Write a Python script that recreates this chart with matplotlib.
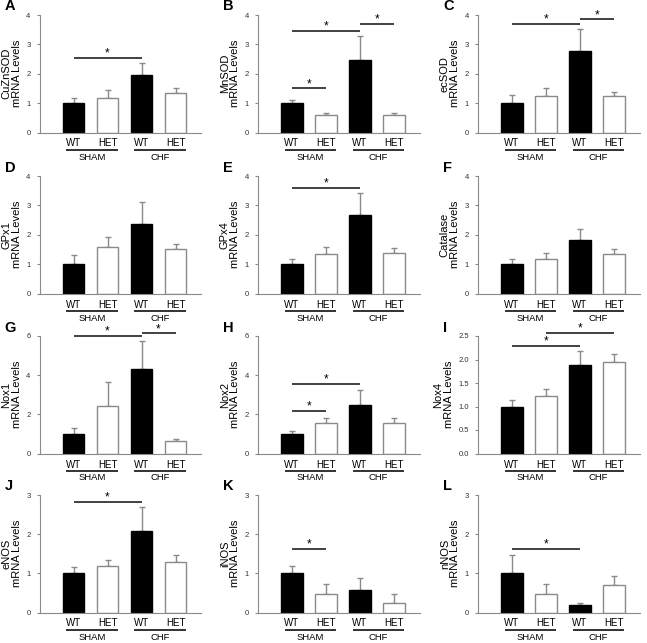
import numpy as np
import matplotlib.pyplot as plt
from matplotlib.transforms import blended_transform_factory

plt.rcParams['font.family'] = ['Liberation Sans', 'DejaVu Sans']

letters = list('ABCDEFGHIJKL')
genes = ['CuZnSOD', 'MnSOD', 'ecSOD', 'GPx1', 'GPx4', 'Catalase',
         'Nox1', 'Nox2', 'Nox4', 'eNOS', 'iNOS', 'nNOS']
bar_labels = ['WT', 'HET', 'WT', 'HET']
group_labels = ['SHAM', 'CHF']

# mean values, order: WT sham, HET sham, WT chf, HET chf
wt_sham = [1.0, 1.0, 1.0, 1.0, 1.0, 1.0, 1.0, 1.0, 1.0, 1.0, 1.0, 1.0]
het_sham = [1.17, 0.61, 1.25, 1.58, 1.36, 1.18, 2.45, 1.58, 1.23, 1.20, 0.48, 0.47]
wt_chf = [1.97, 2.47, 2.77, 2.35, 2.68, 1.82, 4.34, 2.47, 1.88, 2.09, 0.57, 0.19]
het_chf = [1.36, 0.61, 1.23, 1.50, 1.37, 1.34, 0.62, 1.55, 1.94, 1.28, 0.23, 0.70]

# upper error (SEM)
wt_sham_err = [0.19, 0.12, 0.27, 0.30, 0.17, 0.18, 0.29, 0.14, 0.14, 0.15, 0.20, 0.46]
het_sham_err = [0.26, 0.07, 0.27, 0.33, 0.24, 0.21, 1.18, 0.25, 0.14, 0.14, 0.25, 0.27]
wt_chf_err = [0.38, 0.83, 0.75, 0.75, 0.75, 0.38, 1.38, 0.76, 0.30, 0.60, 0.30, 0.04]
het_chf_err = [0.17, 0.07, 0.15, 0.20, 0.18, 0.18, 0.10, 0.24, 0.18, 0.18, 0.25, 0.22]

y_max = [4, 4, 4, 4, 4, 4, 6, 6, 2.5, 3, 3, 3]
y_step = [1, 1, 1, 1, 1, 1, 2, 2, 0.5, 1, 1, 1]

# significance bars: (from bar, to bar, height)
sig_bars = [
    [(0, 2, 2.54)],
    [(0, 1, 1.50), (0, 2, 3.45), (2, 3, 3.70)],
    [(0, 2, 3.70), (2, 3, 3.85)],
    [],
    [(0, 2, 3.60)],
    [],
    [(0, 2, 6.00), (2, 3, 6.13)],
    [(0, 1, 2.16), (0, 2, 3.54)],
    [(0, 2, 2.29), (1, 3, 2.56)],
    [(0, 2, 2.82)],
    [(0, 1, 1.63)],
    [(0, 2, 1.63)],
]

W, H = 647, 643
fig = plt.figure(figsize=(W / 100, H / 100), dpi=100)

col_left = [39.5, 258, 478]
row_top = [15, 176, 336, 495]
ax_w = 161.5
ax_h = 117.5
grey = '#8a8a8a'

for k in range(12):
    r, c = divmod(k, 3)
    left = col_left[c]
    top = row_top[r]
    ax = fig.add_axes([left / W, 1 - (top + ax_h) / H, ax_w / W, ax_h / H])

    vals = [wt_sham[k], het_sham[k], wt_chf[k], het_chf[k]]
    errs = [wt_sham_err[k], het_sham_err[k], wt_chf_err[k], het_chf_err[k]]
    x = np.arange(4)
    faces = ['black', 'white', 'black', 'white']
    edges = ['black', grey, 'black', grey]
    ax.errorbar(x, vals, yerr=[np.zeros(4), errs], fmt='none', ecolor=grey,
                elinewidth=1, capsize=2, capthick=1, zorder=1)
    ax.bar(x, vals, width=0.62, color=faces, edgecolor=edges, linewidth=1, zorder=2)

    ax.set_xlim(-1.0, 3.75)
    ax.set_ylim(0, y_max[k])
    ticks = np.arange(0, y_max[k] + 1e-9, y_step[k])
    ax.set_yticks(ticks)
    if y_step[k] < 1:
        ax.set_yticklabels([f'{t:.1f}' for t in ticks])
    else:
        ax.set_yticklabels([f'{int(t)}' for t in ticks])
    ax.set_xticks([])
    for s in ['top', 'right']:
        ax.spines[s].set_visible(False)
    for s in ['left', 'bottom']:
        ax.spines[s].set_color(grey)
        ax.spines[s].set_linewidth(0.8)
    ax.tick_params(axis='y', length=2.5, width=0.8, color=grey, labelsize=5.5,
                   labelcolor='#333333', pad=4)
    ax.set_ylabel(genes[k] + '\nmRNA Levels', fontsize=8, linespacing=1.05)
    ax.yaxis.set_label_coords(-0.15 if y_step[k] < 1 else -0.11, 0.5)

    tr = blended_transform_factory(ax.transData, ax.transAxes)
    for i, lab in enumerate(bar_labels):
        ax.text(i, -11 / ax_h, lab, transform=tr, ha='center', va='center',
                fontsize=7, clip_on=False)
    for g, lab in enumerate(group_labels):
        ax.plot([2 * g - 0.22, 2 * g + 1.3], [-17 / ax_h] * 2, transform=tr,
                color='#222222', lw=1.3, clip_on=False, solid_capstyle='butt')
        ax.text(2 * g + 0.54, -24.5 / ax_h, lab, transform=tr, ha='center',
                va='center', fontsize=6.8, clip_on=False)

    for a, b, y in sig_bars[k]:
        ax.plot([a, b], [y, y], color='#333333', lw=1.3, clip_on=False,
                solid_capstyle='butt')
        ax.annotate('*', xy=((a + b) / 2, y), xytext=(0, -1.2),
                    textcoords='offset points', ha='center', va='bottom',
                    fontsize=8.5, annotation_clip=False)

    fig.text((left - 35) / W, 1 - (top - 1.5) / H, letters[k], fontsize=10.5,
             fontweight='bold', ha='left', va='bottom')

fig.savefig('out.png', dpi=100)
